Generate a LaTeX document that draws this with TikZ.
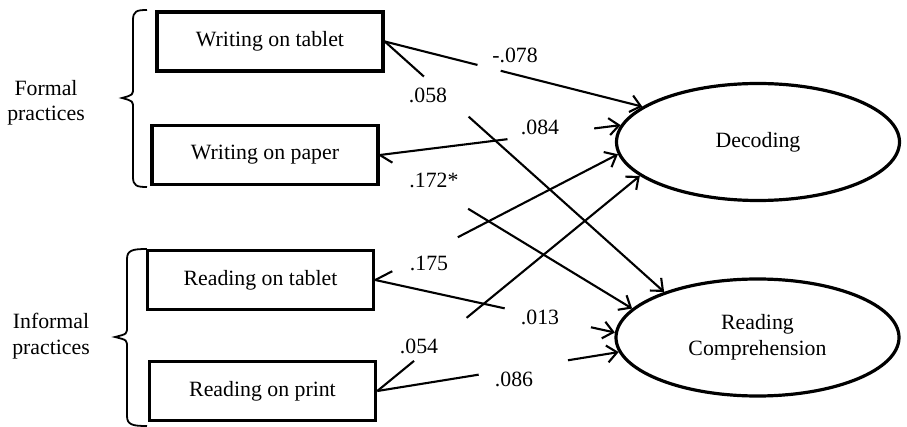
\documentclass[tikz,border=0pt]{standalone}
\usepackage{fontspec}
\setmainfont{Liberation Serif}
\usetikzlibrary{shapes.geometric,arrows.meta,calc}

\begin{document}
\begin{tikzpicture}[
            x=1pt, y=-1pt,
            every node/.style={font=\fontsize{21.8}{25.5}\selectfont},
            practice/.style={rectangle, draw, line width=3.6pt, minimum width=226pt, minimum height=59pt},
            outcome/.style={ellipse, draw, line width=3.2pt, minimum width=283pt, minimum height=117pt, align=center},
            group/.style={align=center},
            coef/.style={inner sep=0pt},
            link/.style={line width=2.1pt},
            arrow/.style={link, -{Straight Barb[length=10pt,width=17pt,line width=2.1pt]}},
            bracket/.style={line width=1.8pt}
        ]
            \useasboundingbox (0,0) rectangle (907,427);

            % Predictors
            \node[practice] (wt) at (270,41.5) {Writing on tablet};
            \node[practice] (wp) at (265,155) {Writing on paper};
            \node[practice] (rt) at (260.5,280) {Reading on tablet};
            \node[practice] (rp) at (262.5,391) {Reading on print};

            % Outcomes
            \node[outcome] (dec) at (758,142) {Decoding};
            \node[outcome] (rc) at (757.5,337.5) {Reading\\Comprehension};

            % Groups
            \node[group] (formal) at (46,103) {Formal\\practices};
            \node[group] (informal) at (51,336) {Informal\\practices};
            \draw[bracket] (147,10) .. controls (137,10) and (133,11) .. (133,20) -- (133,88)
                .. controls (133,95) .. (122,98) .. controls (133,101) .. (133,108) -- (133,177)
                .. controls (133,186) and (137,187) .. (147,187);
            \draw[bracket] (147,249) .. controls (133,249) and (127,250) .. (127,259) -- (127,327)
                .. controls (127,334) .. (115,337) .. controls (127,340) .. (127,347) -- (127,416)
                .. controls (127,425) and (133,426) .. (147,426);

            % Paths
            \draw[link] (wt.east) -- ($(wt.east)!.36!(dec.163)$);
            \draw[arrow] ($(wt.east)!.45!(dec.163)$) -- (dec.163);
            \draw[link] (wt.east) -- ($(wt.east)!.14!(rc.154)$);
            \draw[arrow] ($(wt.east)!.30!(rc.154)$) -- (rc.154);
            \draw[link] (wp.east) -- ($(wp.east)!.53!(dec.173)$);
            \draw[arrow] ($(wp.east)!.89!(dec.173)$) -- (dec.173);
            \draw[link] (wp.east) -- ($(wp.east)!.05!(rc.167)$);
            \draw[arrow] ($(wp.east)!.35!(rc.167)$) -- (rc.167);
            \draw[link] (rt.east) -- ($(rt.east)!.07!(dec.185)$);
            \draw[arrow] ($(rt.east)!.34!(dec.185)$) -- (dec.185);
            \draw[link] (rt.east) -- ($(rt.east)!.54!(rc.178)$);
            \draw[arrow] ($(rt.east)!.90!(rc.178)$) -- (rc.178);
            \draw[link] (rp.east) -- ($(rp.east)!.14!(dec.196)$);
            \draw[arrow] ($(rp.east)!.34!(dec.196)$) -- (dec.196);
            \draw[link] (rp.east) -- ($(rp.east)!.42!(rc.186)$);
            \draw[arrow] ($(rp.east)!.79!(rc.186)$) -- (rc.186);

            % Coefficients
            \node[coef] (c1) at (515,55) {-.078};
            \node[coef] (c2) at (428,95) {.058};
            \node[coef] (c3) at (540,127) {.084};
            \node[coef] (c4) at (434,180) {.172*};
            \node[coef] (c5) at (429,263) {.175};
            \node[coef] (c6) at (540,317) {.013};
            \node[coef] (c7) at (419,346) {.054};
            \node[coef] (c8) at (514,379) {.086};
        \end{tikzpicture}
\end{document}
